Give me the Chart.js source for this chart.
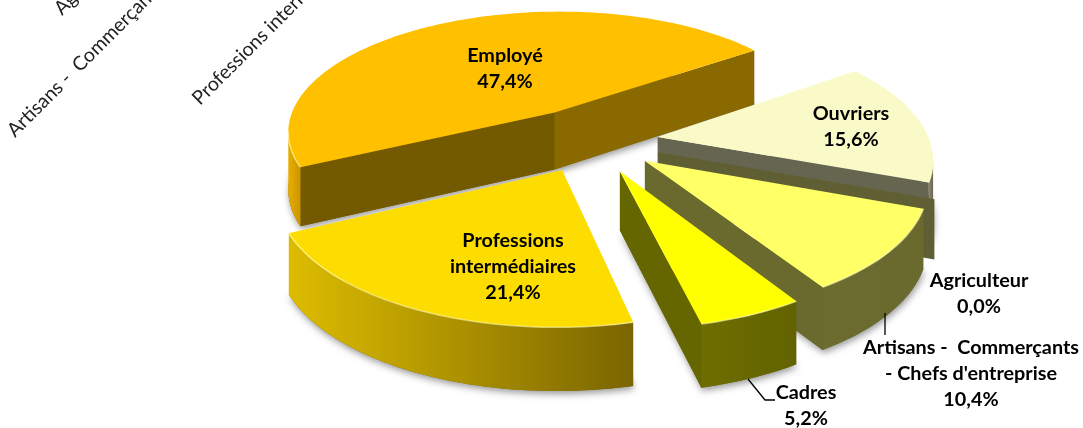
<!DOCTYPE html>
<html>
<head>
<meta charset="utf-8">
<style>
  html, body { margin: 0; padding: 0; background: #fff; overflow: hidden; }
  canvas { display: block; }
</style>
<script src="https://cdn.jsdelivr.net/npm/chart.js@4/dist/chart.umd.js"></script>
</head>
<body>
<canvas id="chart" width="1083" height="428"></canvas>
<script>
// data, clockwise, same order as the sheet
var categories = ["Agriculteur", "Artisans -  Commerçants - Chefs d'entreprise", "Cadres", "Professions intermédiaires", "Employé", "Ouvriers"];
var shares = [0.0, 10.4, 5.2, 21.4, 47.4, 15.6];
var axisLabels = ["Agriculteur", "Artisans -  Commerçants - Chefs d'entreprise", "Professions intermédiaires"];

// styles
var explode = [48, 46, 48, 47, 52, 46];
var topColors = ["#FFFFFF", "#FFFF66", "#FFFF00", "#FDDC00", "#FFC000", "#FAFAC8"];
var endWalls = ["#5F5F33", "#6A6A2E", "#666600", "#7F6600", "#8A6A00", "#666650"];
var startWalls = ["#5F5F33", "#6A6A2E", "#666600", "#7F6600", "#735900", "#666650"];
var arcWallLeft = ["#5F5F33", "#6C6C30", "#6E6E00", "#DDBC00", "#E8AE00", "#8A8870"];
var arcWallRight = ["#5F5F33", "#6A6A2E", "#626200", "#7A6500", "#C99500", "#666650"];
var drawOrder = [4, 5, 0, 1, 3, 2];

var view = { cx: 592, cy: 141, rx: 272, ry: 124, k: 0.15, depth: 58, dk: 0.08 };

// label blocks: text lines and the centre of the first line
var labelLines = [
  ["Agriculteur", "0,0%"],
  ["Artisans -  Commerçants", "- Chefs d'entreprise", "10,4%"],
  ["Cadres", "5,2%"],
  ["Professions", "intermédiaires", "21,4%"],
  ["Employé", "47,4%"],
  ["Ouvriers", "15,6%"]
];
var labelX = [979, 971, 806, 513, 505, 851];
var labelY = [281, 348, 393, 241, 56, 114];
var axisLabelX = [62, 15, 200];
var axisLabelY = [16, 138, 106];

function project(u, v) {
  var w = 1 + view.k * v;
  return { x: view.cx + view.rx * u / w, y: view.cy - view.ry * v / w, v: v };
}
function drop(p) {
  return { x: p.x, y: p.y + view.depth * (1 - view.dk * p.v), v: p.v };
}
function poly(ctx, pts) {
  ctx.beginPath();
  pts.forEach(function (p, i) {
    if (i == 0) ctx.moveTo(p.x, p.y); else ctx.lineTo(p.x, p.y);
  });
  ctx.closePath();
}
function wall(ctx, a, b, color) {
  poly(ctx, [a, b, drop(b), drop(a)]);
  ctx.fillStyle = color;
  ctx.fill();
}

function drawWedge(ctx, el, i) {
  var p = el.getProps(['startAngle', 'endAngle', 'outerRadius'], true);
  var R = p.outerRadius;
  var off = explode[i] / R;
  var mid = (p.startAngle + p.endAngle) / 2;
  var ou = off * Math.cos(mid), ov = -off * Math.sin(mid);
  var apex = project(ou, ov);
  var arc = [];
  var steps = Math.max(1, Math.round((p.endAngle - p.startAngle) * 40));
  for (var s = 0; s <= steps; s++) {
    var a = p.startAngle + (p.endAngle - p.startAngle) * s / steps;
    arc.push(project(ou + Math.cos(a), ov - Math.sin(a)));
  }
  var first = arc[0], last = arc[arc.length - 1];

  // soft shadow under the block
  var outline = [apex].concat(arc);
  ctx.save();
  ctx.shadowColor = "rgba(0,0,0,0.4)";
  ctx.shadowBlur = 7;
  ctx.shadowOffsetX = 1;
  ctx.shadowOffsetY = 3;
  poly(ctx, outline.map(drop));
  ctx.fillStyle = endWalls[i];
  if (shares[i] > 0) ctx.fill();
  ctx.restore();

  // flat walls, only when they face the viewer
  if (first.x < apex.x) wall(ctx, apex, first, startWalls[i]);
  if (last.x > apex.x) wall(ctx, last, apex, endWalls[i]);

  // rim
  var vis = [];
  for (var j = 1; j < arc.length; j++) {
    if (arc[j].x < arc[j - 1].x) {
      if (!vis.length) vis.push(arc[j - 1]);
      vis.push(arc[j]);
    }
  }
  if (vis.length > 1) {
    var g = ctx.createLinearGradient(vis[vis.length - 1].x, 0, vis[0].x, 0);
    g.addColorStop(0, arcWallLeft[i]);
    g.addColorStop(1, arcWallRight[i]);
    poly(ctx, vis.concat(vis.map(drop).reverse()));
    ctx.fillStyle = g;
    ctx.fill();
  }

  // top face
  if (shares[i] > 0) {
    poly(ctx, outline);
    ctx.fillStyle = topColors[i];
    ctx.fill();
    if (vis.length > 1) {
      ctx.beginPath();
      vis.forEach(function (q, n) { if (n == 0) ctx.moveTo(q.x, q.y); else ctx.lineTo(q.x, q.y); });
      ctx.strokeStyle = "rgba(255,255,190,0.55)";
      ctx.lineWidth = 1.5;
      ctx.stroke();
    }
  }
}

var pie3d = {
  id: 'pie3d',
  beforeDatasetDraw: function (chart, args) {
    var ctx = chart.ctx;
    var meta = chart.getDatasetMeta(args.index);
    drawOrder.forEach(function (i) { drawWedge(ctx, meta.data[i], i); });
    return false;
  },
  afterDraw: function (chart) {
    var ctx = chart.ctx;
    ctx.save();

    // rotated names top left, cut by the picture edge
    ctx.font = "19.5px Lato";
    ctx.fillStyle = "#222";
    ctx.textAlign = "left";
    ctx.textBaseline = "alphabetic";
    axisLabels.forEach(function (t, i) {
      ctx.save();
      ctx.translate(axisLabelX[i], axisLabelY[i]);
      ctx.rotate(-Math.PI / 4);
      ctx.fillText(t, 0, 0);
      ctx.restore();
    });

    // leader lines
    ctx.strokeStyle = "#000";
    ctx.lineWidth = 1.3;
    ctx.beginPath();
    ctx.moveTo(748, 379); ctx.lineTo(765, 400); ctx.lineTo(775, 400);
    ctx.moveTo(885, 313); ctx.lineTo(885, 335);
    ctx.stroke();

    // value labels
    ctx.font = "bold 19.8px Lato";
    ctx.fillStyle = "#000";
    ctx.textAlign = "center";
    ctx.textBaseline = "middle";
    labelLines.forEach(function (lines, i) {
      lines.forEach(function (t, n) {
        ctx.fillText(t, labelX[i], labelY[i] + n * 26);
      });
    });
    ctx.restore();
  }
};

new Chart(document.getElementById("chart").getContext("2d"), {
  type: 'pie',
  data: {
    labels: categories,
    datasets: [{ data: shares, backgroundColor: topColors, offset: explode, borderWidth: 0 }]
  },
  options: {
    responsive: false,
    animation: false,
    rotation: 110.5,
    plugins: { legend: { display: false }, tooltip: { enabled: false } }
  },
  plugins: [pie3d]
});
</script>
</body>
</html>
